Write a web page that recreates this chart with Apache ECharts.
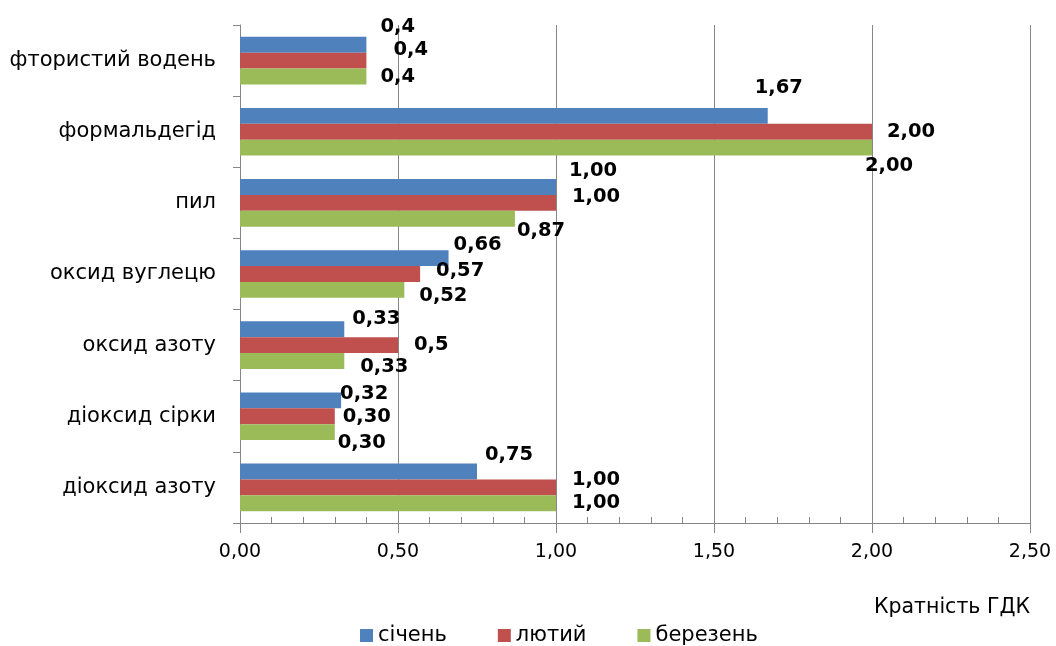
<!DOCTYPE html>
<html>
<head>
<meta charset="utf-8">
<script src="https://cdn.jsdelivr.net/npm/echarts@6/dist/echarts.min.js"></script>
<style>
  html, body { margin: 0; padding: 0; background: #fff; }
  #chart { width: 1056px; height: 646px; }
</style>
</head>
<body>
<div id="chart"></div>
<script>
// Pollutants, listed from the bottom of the axis to the top
const categories = ['діоксид азоту', 'діоксид сірки', 'оксид азоту', 'оксид вуглецю', 'пил', 'формальдегід', 'фтористий водень'];
const monthNames = ['січень', 'лютий', 'березень'];

// Multiples of the maximum permissible concentration (ГДК)
const valuesJan = [0.75, 0.32, 0.33, 0.66, 1.00, 1.67, 0.4];
const valuesFeb = [1.00, 0.30, 0.5, 0.57, 1.00, 2.00, 0.4];
const valuesMar = [1.00, 0.30, 0.33, 0.52, 0.87, 2.00, 0.4];

// Decimal places shown in each value label
const decimalsJan = [2, 2, 2, 2, 2, 2, 1];
const decimalsFeb = [2, 2, 1, 2, 2, 2, 1];
const decimalsMar = [2, 2, 2, 2, 2, 2, 1];

const axisMin = 0;
const axisMax = 2.5;
const axisStep = 0.5;
const minorStep = 0.1;
const axisTitle = 'Кратність ГДК';

// Label nudges [dx, dy] in pixels from the end of each bar
const shiftJan = [[8, -17], [-1, -6], [8, -10], [5, -13], [13, -16], [-13, -28], [14, -18]];
const shiftFeb = [[16, -7], [8, 1], [16, 0], [16, -3], [16, -6], [15, 0], [27, -11]];
const shiftMar = [[16, 0], [3, 11], [16, 6], [15, 6], [2, 12], [-7, 18], [14, 0]];

const colors = { 'січень': '#4F81BD', 'лютий': '#C0504D', 'березень': '#9BBB59' };
const FONT = '"DejaVu Sans", sans-serif';

function fmt(v, d) {
  return v.toFixed(d).replace('.', ',');
}

function makeSeries(name, values, decimals, shifts) {
  return {
    name: name,
    type: 'bar',
    barCategoryGap: '33%',
    barGap: '0%',
    itemStyle: { color: colors[name] },
    data: values.map(function (v, i) {
      return {
        value: v,
        label: {
          show: true,
          position: 'right',
          distance: 0,
          offset: shifts[i],
          formatter: fmt(v, decimals[i])
        }
      };
    }),
    label: {
      color: '#000',
      fontFamily: FONT,
      fontWeight: 'bold',
      fontSize: 19.5
    },
    emphasis: { disabled: true },
    animation: false
  };
}

const chart = echarts.init(document.getElementById('chart'), null, { renderer: 'canvas' });

chart.setOption({
  backgroundColor: '#ffffff',
  animation: false,
  grid: { left: 240, right: 26, top: 25, bottom: 123, containLabel: false },
  legend: {
    data: monthNames,
    left: 355,
    top: 620,
    itemWidth: 13,
    itemHeight: 13,
    itemGap: 51,
    icon: 'rect',
    textStyle: { fontFamily: FONT, fontSize: 21, color: '#000' }
  },
  xAxis: [
    {
      type: 'value',
      min: axisMin,
      max: axisMax,
      interval: axisStep,
      position: 'bottom',
      axisLine: { show: true, lineStyle: { color: '#868686', width: 1 } },
      axisTick: { show: true, inside: false, length: 10, lineStyle: { color: '#868686' } },
      axisLabel: {
        margin: 20,
        fontFamily: FONT,
        fontSize: 19,
        color: '#000',
        formatter: function (v) { return fmt(v, 2); }
      },
      splitLine: { show: true, lineStyle: { color: '#868686', width: 1 } }
    },
    {
      type: 'value',
      min: axisMin,
      max: axisMax,
      interval: minorStep,
      position: 'bottom',
      axisLine: { show: false },
      axisTick: { show: true, inside: true, length: 6, lineStyle: { color: '#868686' } },
      axisLabel: { show: false },
      splitLine: { show: false }
    }
  ],
  yAxis: {
    type: 'category',
    data: categories,
    axisLine: { show: true, lineStyle: { color: '#868686', width: 1 } },
    axisTick: { show: true, inside: false, length: 7, alignWithLabel: false, lineStyle: { color: '#868686' } },
    axisLabel: { margin: 24, fontFamily: FONT, fontSize: 21, color: '#000' },
    splitLine: { show: false }
  },
  graphic: [{
    type: 'text',
    right: 26,
    top: 597,
    style: { text: axisTitle, font: '20.5px ' + FONT, fill: '#000' }
  }],
  // first series sits at the top of each category band
  series: [
    makeSeries('січень', valuesJan, decimalsJan, shiftJan),
    makeSeries('лютий', valuesFeb, decimalsFeb, shiftFeb),
    makeSeries('березень', valuesMar, decimalsMar, shiftMar)
  ]
});
</script>
</body>
</html>
